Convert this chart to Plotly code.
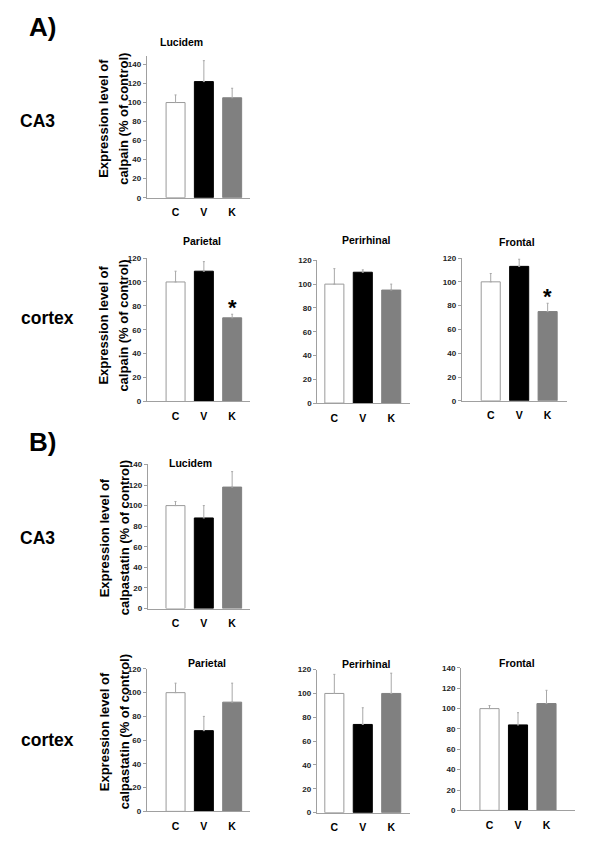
import plotly.graph_objects as go

categories = ["C", "V", "K"]

calpain_lucidem = [100, 122, 105]
calpain_lucidem_err = [8, 22, 10]
calpain_parietal = [100, 109, 70]
calpain_parietal_err = [9, 8, 3]
calpain_perirhinal = [100, 110, 95]
calpain_perirhinal_err = [13, 2, 5]
calpain_frontal = [100, 113, 75]
calpain_frontal_err = [7, 6, 7]

calpastatin_lucidem = [100, 88, 118]
calpastatin_lucidem_err = [4, 12, 15]
calpastatin_parietal = [100, 68, 92]
calpastatin_parietal_err = [8, 12, 16]
calpastatin_perirhinal = [100, 74, 100]
calpastatin_perirhinal_err = [16, 14, 17]
calpastatin_frontal = [100, 84, 105]
calpastatin_frontal_err = [3, 12, 13]

panel_titles = ["Lucidem", "Parietal", "Perirhinal", "Frontal",
                "Lucidem", "Parietal", "Perirhinal", "Frontal"]
significant = [[], ["K"], [], ["K"], [], [], [], []]

values = [calpain_lucidem, calpain_parietal, calpain_perirhinal, calpain_frontal,
          calpastatin_lucidem, calpastatin_parietal, calpastatin_perirhinal, calpastatin_frontal]
errors = [calpain_lucidem_err, calpain_parietal_err, calpain_perirhinal_err, calpain_frontal_err,
          calpastatin_lucidem_err, calpastatin_parietal_err, calpastatin_perirhinal_err, calpastatin_frontal_err]

# the page body has an 8px default margin: work in page pixels, convert to figure pixels
OFF = 8
W, H = 600 - OFF, 851 - OFF


def fx(px):
    return (px - OFF) / W


def fy(py):
    return 1 - (py - OFF) / H


# pixel geometry (page coords): left, right, top, bottom, ymax, xmin, xmax, last tick
geom = [
    (146.7, 250, 52, 195.7, 149.4, -1.02, 2.63, 140),
    (146.7, 250, 256.7, 401.7, 120, -1.02, 2.63, 120),
    (317.3, 410, 259, 403.3, 120, -0.60, 2.66, 120),
    (461.7, 566.7, 256.7, 401, 120, -1.02, 2.67, 120),
    (147.7, 250, 465.3, 611, 140, -0.98, 2.63, 140),
    (146.7, 250, 672, 816, 120, -1.02, 2.63, 120),
    (316.7, 410, 672.7, 817.3, 120, -0.62, 2.66, 120),
    (461, 575, 671, 815, 140, -1.0, 3.0, 140),
]
title_pos = [(181, 38), (201.7, 239.3), (366.7, 238.3), (516.7, 240),
             (190, 464.3), (206.7, 666), (366.7, 667.3), (516.7, 666)]

FONT = "Arial, Liberation Sans, sans-serif"
colors = ["#ffffff", "#000000", "#808080"]
lines = ["#9a9a9a", "#000000", "#808080"]

fig = go.Figure()
layout = dict(width=W, height=H, margin=dict(l=0, r=0, t=0, b=0),
              paper_bgcolor="white", plot_bgcolor="white", showlegend=False,
              font=dict(family=FONT, color="black"))
annotations = []

for i in range(8):
    n = i + 1
    xa = "x" if n == 1 else f"x{n}"
    ya = "y" if n == 1 else f"y{n}"
    l, r, t, b, ymax, xmin, xmax, ytop = geom[i]
    fig.add_trace(go.Bar(
        x=[0, 1, 2], y=values[i], xaxis=xa, yaxis=ya, width=0.67,
        marker=dict(color=colors, line=dict(color=lines, width=1)),
        error_y=dict(type="data", array=errors[i], arrayminus=[0, 0, 0], symmetric=False,
                     color="#a8a8a8", thickness=1, width=1),
        hoverinfo="skip"))
    xkey = "xaxis" if n == 1 else f"xaxis{n}"
    ykey = "yaxis" if n == 1 else f"yaxis{n}"
    layout[xkey] = dict(domain=[fx(l), fx(r)], range=[xmin, xmax], anchor=ya,
                        tickvals=[0, 1, 2], ticktext=categories, showline=True,
                        linecolor="#a0a0a0", linewidth=1, ticks="", showgrid=False,
                        zeroline=False, fixedrange=True, ticklabelstandoff=5,
                        tickfont=dict(family=FONT, size=10.5, weight="bold", color="black"))
    layout[ykey] = dict(domain=[fy(b), fy(t)], range=[0, ymax], anchor=xa,
                        tickvals=list(range(0, ytop + 1, 20)), showline=True,
                        linecolor="#a0a0a0", linewidth=1, ticks="outside", ticklen=3,
                        tickcolor="#a0a0a0", showgrid=False, zeroline=False, fixedrange=True,
                        tickfont=dict(family=FONT, size=8, weight="bold", color="#222"))
    tx, ty = title_pos[i]
    annotations.append(dict(text=panel_titles[i], x=fx(tx), y=fy(ty), xref="paper", yref="paper",
                            showarrow=False, xanchor="center", yanchor="middle",
                            font=dict(family=FONT, size=10.5, weight="bold")))
    for c in significant[i]:
        k = categories.index(c)
        annotations.append(dict(text="*", x=k, y=values[i][k] + errors[i][k] + 6,
                                xref=xa, yref=ya, showarrow=False, xanchor="center", yanchor="middle",
                                font=dict(family=FONT, size=22, weight="bold")))

# y-axis titles
ytitles = [("Expression level of", "calpain (% of control)", 116),
           ("Expression level of", "calpain (% of control)", 325),
           ("Expression level of", "calpastatin (% of control)", 540),
           ("Expression level of", "calpastatin (% of control)", 736)]
for l1, l2, yc in ytitles:
    annotations.append(dict(text=l1, x=fx(104), y=fy(yc), xref="paper", yref="paper",
                            showarrow=False, textangle=-90, xanchor="center", yanchor="middle",
                            font=dict(family=FONT, size=13, weight="bold")))
    annotations.append(dict(text=l2, x=fx(124), y=fy(yc), xref="paper", yref="paper",
                            showarrow=False, textangle=-90, xanchor="center", yanchor="middle",
                            font=dict(family=FONT, size=13, weight="bold")))

# row labels and section letters
for txt, x, y, s in [("A)", 27, 23, 26), ("B)", 27, 443, 26),
                     ("CA3", 18, 118, 17.5), ("cortex", 19, 317, 17.5),
                     ("CA3", 18, 540, 17.5), ("cortex", 19, 744, 17.5)]:
    annotations.append(dict(text=txt, x=fx(x), y=fy(y), xref="paper", yref="paper",
                            showarrow=False, xanchor="left", yanchor="middle",
                            font=dict(family=FONT, size=s, weight="bold")))

layout["annotations"] = annotations
fig.update_layout(**layout)
fig.write_html("out.html")
